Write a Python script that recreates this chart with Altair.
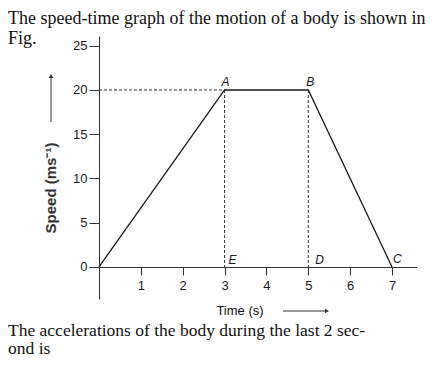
import altair as alt
import pandas as pd

# ---- data ----
time_s = [0, 3, 5, 7]
speed = [0, 20, 20, 0]

x_ticks = [1, 2, 3, 4, 5, 6, 7]
y_ticks = [0, 5, 10, 15, 20, 25]

pt_names = ["A", "B", "C", "D", "E"]
pt_time = [3, 5, 7, 5, 3]
pt_speed = [20, 20, 0, 0, 0]

guide_t = [0, 3, 5]
guide_t2 = [3, 3, 5]
guide_v = [20, 20, 20]
guide_v2 = [20, 0, 0]

header_lines = ["The speed-time graph of the motion of a body is shown in", "Fig."]
footer_lines = ["The accelerations of the body during the last 2 sec-", "ond is"]
x_title = "Time (s)"
y_title = "Speed (ms\u207b\u00b9)"

SANS = "Liberation Sans"
SERIF = "Liberation Serif"
INK = "#1a1a1a"

xs = alt.Scale(domain=[-0.215, 7.597], nice=False, zero=False)
ys = alt.Scale(domain=[-3.62, 26.1], nice=False, zero=False)

curve = pd.DataFrame({"t": time_s, "v": speed})
pts = pd.DataFrame({"name": pt_names, "t": pt_time, "v": pt_speed})
guides = pd.DataFrame({"t": guide_t, "t2": guide_t2, "v": guide_v, "v2": guide_v2})

line = alt.Chart(curve).mark_line(color=INK, strokeWidth=1.3).encode(
    x=alt.X("t:Q", scale=xs, axis=alt.Axis(
        values=x_ticks, offset=-32, tickSize=8, labelPadding=4, title=None, grid=False,
        domainColor="#333", tickColor="#333", labelFont=SANS, labelFontSize=13,
        labelColor=INK, domainWidth=1, tickWidth=1)),
    y=alt.Y("v:Q", scale=ys, axis=alt.Axis(
        values=y_ticks, offset=-9, tickSize=10, labelPadding=2, title=None, grid=False,
        domainColor="#333", tickColor="#333", labelFont=SANS, labelFontSize=13,
        labelColor=INK, domainWidth=1, tickWidth=1)),
    order="t:Q",
)

dashed = alt.Chart(guides).mark_rule(color="#333", strokeWidth=1, strokeDash=[3, 2]).encode(
    x=alt.X("t:Q", scale=xs), x2="t2:Q",
    y=alt.Y("v:Q", scale=ys), y2="v2:Q",
)

label_layers = []
offsets = {"A": ("center", 1, -4), "B": ("center", 2, -4), "C": ("left", 1, -4),
           "D": ("left", 7, -3), "E": ("left", 4, -3)}
for nm in pt_names:
    al, dx, dy = offsets[nm]
    label_layers.append(
        alt.Chart(pts[pts["name"] == nm]).mark_text(
            font=SANS, fontSize=12, fontStyle="italic", color=INK,
            align=al, baseline="alphabetic", dx=dx, dy=dy
        ).encode(x=alt.X("t:Q", scale=xs), y=alt.Y("v:Q", scale=ys), text="name:N")
    )


def txt(s, x, y, font=SERIF, size=18, align="left", angle=0, baseline="alphabetic",
        weight="normal", color="#111"):
    return alt.Chart(pd.DataFrame({"s": [s]})).mark_text(
        font=font, fontSize=size, color=color, align=align, baseline=baseline,
        angle=angle, fontWeight=weight
    ).encode(x=alt.value(x), y=alt.value(y), text="s:N")


one = pd.DataFrame({"k": [0]})
x_arrow = alt.Chart(one).mark_rule(color="#333", strokeWidth=1).encode(
    x=alt.value(193), x2=alt.value(235), y=alt.value(275))
x_head = alt.Chart(one).mark_point(shape="triangle-right", filled=True, color="#333", size=22, opacity=1).encode(
    x=alt.value(237), y=alt.value(275))
y_arrow = alt.Chart(one).mark_rule(color="#333", strokeWidth=1).encode(
    x=alt.value(-39), y=alt.value(86), y2=alt.value(42))
y_head = alt.Chart(one).mark_point(shape="triangle-up", filled=True, color="#333", size=22, opacity=1).encode(
    x=alt.value(-39), y=alt.value(40))

annotations = [
    txt(header_lines[0], -82, -12),
    txt(header_lines[1], -82, 8),
    txt(footer_lines[0], -82, 300, size=17.5),
    txt(footer_lines[1], -82, 318, size=17.5),
    txt(x_title, 150, 279, font=SANS, size=13, align="center"),
    txt(y_title, -39, 152, font=SANS, size=15, align="center", angle=270,
        baseline="middle", weight="bold", color="#333"),
]

chart = alt.layer(
    dashed, line, *label_layers, x_arrow, x_head, y_arrow, y_head, *annotations
).properties(
    width=327, height=263,
    autosize=alt.AutoSizeParams(type="none"),
    padding={"left": 82, "top": 28, "right": 11, "bottom": 60},
    background="white",
).configure_view(stroke=None)

chart.save("out.html", embed_options={"renderer": "svg", "actions": False})
